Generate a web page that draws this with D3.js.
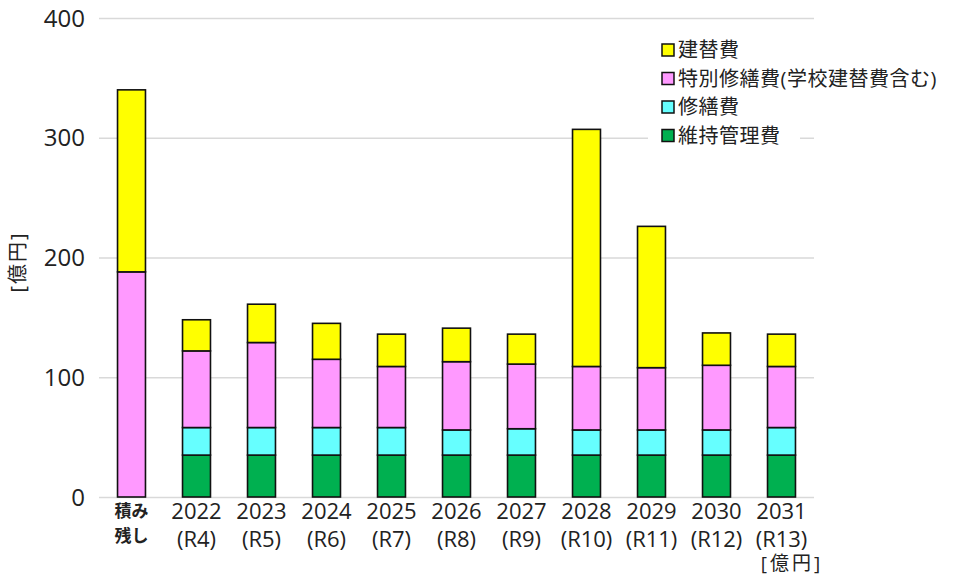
<!DOCTYPE html>
<html>
<head>
<meta charset="utf-8">
<script src="https://cdn.jsdelivr.net/npm/d3@7"></script>
<style>
  body { margin: 0; background: #fff; }
  text { font-family: "Open Sans", "Noto Sans CJK JP", sans-serif; fill: #222; }
</style>
</head>
<body>
<div id="chart"></div>
<script>
// categories (line1 / line2 of the x labels)
var categories = ["積み残し", "2022", "2023", "2024", "2025", "2026", "2027", "2028", "2029", "2030", "2031"];
var labelTop = ["積み", "2022", "2023", "2024", "2025", "2026", "2027", "2028", "2029", "2030", "2031"];
var labelBottom = ["残し", "(R4)", "(R5)", "(R6)", "(R7)", "(R8)", "(R9)", "(R10)", "(R11)", "(R12)", "(R13)"];

// series values [億円]
var maintenance = [0, 35, 35, 35, 35, 35, 35, 35, 35, 35, 35];     // 維持管理費
var repair = [0, 23, 23, 23, 23, 21, 22, 21, 21, 21, 23];          // 修繕費
var special = [188, 64, 71, 57, 51, 57, 54, 53, 52, 54, 51];        // 特別修繕費
var rebuild = [152, 26, 32, 30, 27, 28, 25, 198, 118, 27, 27];      // 建替費

var seriesNames = ["維持管理費", "修繕費", "特別修繕費(学校建替費含む)", "建替費"];
var seriesColors = ["#00B050", "#66FFFF", "#FF99FF", "#FFFF00"];
var yTicks = [0, 100, 200, 300, 400];

var W = 954, H = 576;
var margin = { top: 18, left: 99, right: 140, bottom: 79 };
var width = W - margin.left - margin.right,
    height = H - margin.top - margin.bottom;

var svg = d3.select("#chart").append("svg")
  .attr("width", W).attr("height", H);
var g = svg.append("g")
  .attr("transform", "translate(" + margin.left + "," + margin.top + ")");

var x = d3.scaleBand().domain(categories).range([0, width]).paddingInner(0.57).paddingOuter(0.285);
var y = d3.scaleLinear().domain([0, 400]).range([height, 0]);

// gridlines
g.append("g")
  .call(d3.axisLeft(y).tickValues(yTicks).tickSize(-width).tickFormat(""))
  .call(function (s) {
    s.select(".domain").remove();
    s.selectAll("line").attr("stroke", "#d9d9d9").attr("stroke-width", 1.5);
  });

// y tick labels
g.selectAll(".ylab").data(yTicks).enter().append("text")
  .attr("x", -14).attr("y", function (d) { return y(d); })
  .attr("dy", "0.36em").attr("text-anchor", "end")
  .style("font-size", "24px").text(function (d) { return d; });

// stacked data
var table = categories.map(function (c, i) {
  return { cat: c, m: maintenance[i], r: repair[i], s: special[i], b: rebuild[i] };
});
var stack = d3.stack().keys(["m", "r", "s", "b"])(table);

g.selectAll(".layer").data(stack).enter().append("g")
  .attr("fill", function (d, i) { return seriesColors[i]; })
  .selectAll("rect").data(function (d) { return d.filter(function (p) { return p[1] > p[0]; }); })
  .enter().append("rect")
  .attr("x", function (d) { return x(d.data.cat); })
  .attr("width", x.bandwidth())
  .attr("y", function (d) { return y(d[1]); })
  .attr("height", function (d) { return y(d[0]) - y(d[1]); })
  .attr("stroke", "#111").attr("stroke-width", 1.6);

// x labels
categories.forEach(function (c, i) {
  var cx = x(c) + x.bandwidth() / 2;
  var first = i === 0;
  g.append("text").attr("x", cx).attr("y", height + (first ? 20 : 22))
    .attr("text-anchor", "middle")
    .style("font-size", first ? "17px" : "22px")
    .style("font-weight", first ? "bold" : "normal")
    .text(labelTop[i]);
  g.append("text").attr("x", cx).attr("y", height + (first ? 45 : 50))
    .attr("text-anchor", "middle")
    .style("font-size", first ? "17px" : "22px")
    .style("font-weight", first ? "bold" : "normal")
    .text(labelBottom[i]);
});

// y axis label
svg.append("text")
  .attr("transform", "translate(25,262) rotate(-90)")
  .attr("text-anchor", "middle")
  .style("font-size", "20px").style("letter-spacing", "2px")
  .text("[億円]");

// unit label bottom right
svg.append("text")
  .attr("x", 792).attr("y", 570)
  .attr("text-anchor", "middle")
  .style("font-size", "19px").style("letter-spacing", "3px")
  .text("[億円]");

// legend
var legend = svg.append("g").attr("transform", "translate(648,34)");
legend.append("rect").attr("x", 0).attr("y", 0).attr("width", 152).attr("height", 114).attr("fill", "#fff");
var order = [3, 2, 1, 0];
order.forEach(function (k, j) {
  var row = legend.append("g").attr("transform", "translate(0," + (16 + j * 28.5) + ")");
  row.append("rect").attr("x", 14).attr("y", -6).attr("width", 12).attr("height", 12)
    .attr("fill", seriesColors[k]).attr("stroke", "#111").attr("stroke-width", 1.5);
  row.append("text").attr("x", 30).attr("dy", "0.36em")
    .style("font-size", "20px").style("letter-spacing", "0.5px").text(seriesNames[k]);
});
</script>
</body>
</html>
